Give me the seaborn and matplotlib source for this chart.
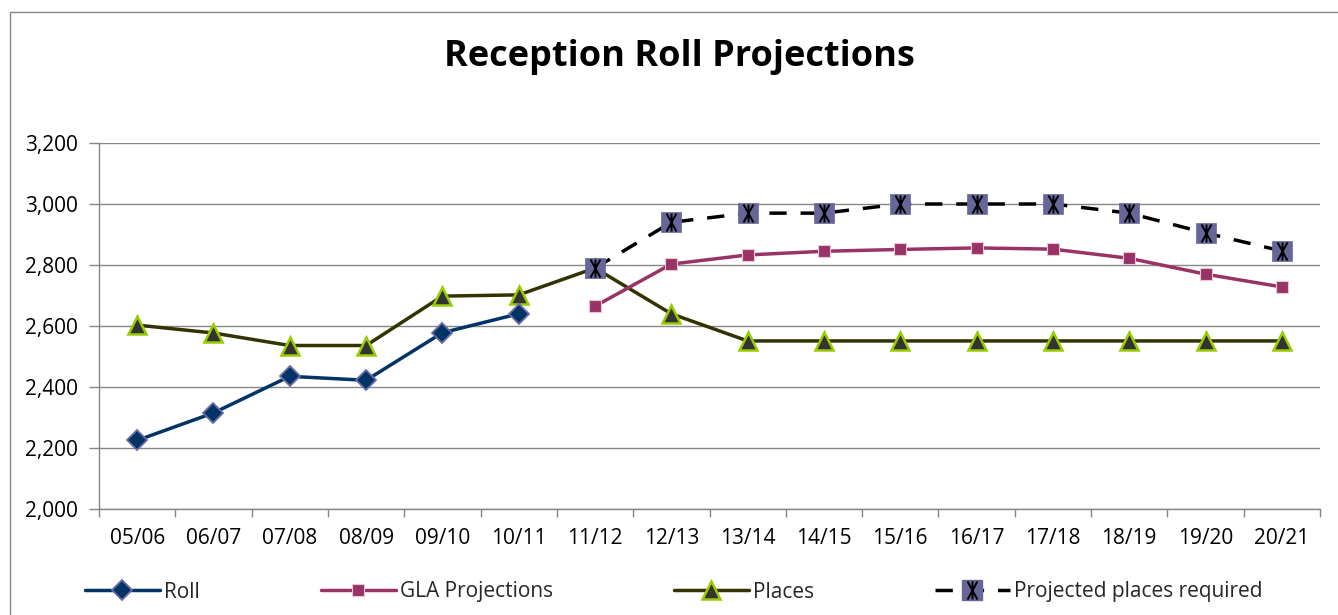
import matplotlib
matplotlib.use("Agg")
import matplotlib.pyplot as plt
import seaborn as sns
import numpy as np
import pandas as pd
from matplotlib.lines import Line2D
from matplotlib.legend_handler import HandlerTuple
from matplotlib.patches import Rectangle
from matplotlib.path import Path
from matplotlib.ticker import FixedLocator, FuncFormatter

years = ["05/06", "06/07", "07/08", "08/09", "09/10", "10/11", "11/12", "12/13",
         "13/14", "14/15", "15/16", "16/17", "17/18", "18/19", "19/20", "20/21"]
nan = np.nan
roll = [2225, 2315, 2435, 2422, 2578, 2640, nan, nan, nan, nan, nan, nan, nan, nan, nan, nan]
gla = [nan, nan, nan, nan, nan, nan, 2665, 2803, 2833, 2845, 2851, 2856, 2852, 2822, 2770, 2728]
places = [2603, 2577, 2536, 2536, 2698, 2702, 2790, 2640, 2551, 2551, 2551, 2551, 2551, 2551, 2551, 2551]
projected = [nan, nan, nan, nan, nan, nan, 2790, 2940, 2970, 2970, 3000, 3000, 3000, 2970, 2905, 2846]
yticks = [2000, 2200, 2400, 2600, 2800, 3000, 3200]

df = pd.DataFrame({"year": years, "Roll": roll, "GLA Projections": gla,
                   "Places": places, "Projected places required": projected})

sns.set_theme(style="white")
plt.rcParams['font.family'] = ['Open Sans', 'DejaVu Sans']

fig = plt.figure(figsize=(13.38, 6.15), dpi=100)
ax = fig.add_axes([99/1338, 1 - 509/615, (1320 - 99)/1338, (509 - 143)/615])

c_roll = "#003366"
c_gla = "#993366"
c_places = "#333300"

lw = 2.5
ms_roll, ms_gla, ms_pl, ms_pr, ms_star = 10, 8, 13, 15, 13

sns.lineplot(data=df, x="year", y="Places", ax=ax, color=c_places, lw=lw,
             marker="^", markersize=ms_pl, markerfacecolor="#333333",
             markeredgecolor="#99CC00", markeredgewidth=1.8, zorder=3)
sns.lineplot(data=df, x="year", y="Roll", ax=ax, color=c_roll, lw=lw,
             marker="D", markersize=ms_roll, markerfacecolor=c_roll,
             markeredgecolor="#6B6BA3", markeredgewidth=1.3, zorder=4)
sns.lineplot(data=df, x="year", y="GLA Projections", ax=ax, color=c_gla, lw=lw,
             marker="s", markersize=ms_gla, markerfacecolor=c_gla,
             markeredgecolor="#E8C8D8", markeredgewidth=0.8, zorder=4)
sns.lineplot(data=df, x="year", y="Projected places required", ax=ax, color="black", lw=lw,
             marker="s", markersize=ms_pr, markerfacecolor="#666699",
             markeredgecolor="#666699", markeredgewidth=0.5, zorder=5,
             dashes=False, linestyle=(0, (5, 4)))

# star-like marker (X with vertical bar) overlay
star = Path([(-0.55, -1), (0.55, 1), (-0.55, 1), (0.55, -1), (0, -1), (0, 1)],
            [Path.MOVETO, Path.LINETO, Path.MOVETO, Path.LINETO, Path.MOVETO, Path.LINETO])
sns.lineplot(data=df, x="year", y="Projected places required", ax=ax, lw=0,
             marker=star, markersize=ms_star, markerfacecolor="none",
             markeredgecolor="black", markeredgewidth=1.4, zorder=6)

ax.set_ylim(2000, 3200)
ax.set_xlim(-0.5, len(years) - 0.5)
ax.set_yticks(yticks)
ax.yaxis.set_major_formatter(FuncFormatter(lambda v, p: f"{int(v):,}"))
ax.set_xticks(range(len(years)))
ax.set_xticklabels(years)
ax.xaxis.set_minor_locator(FixedLocator(np.arange(-0.5, len(years), 1.0)))
ax.tick_params(axis="x", which="major", length=0, pad=14, labelsize=15, colors="black")
ax.tick_params(axis="x", which="minor", length=6, width=1, color="#868686", direction="out", bottom=True)
ax.tick_params(axis="y", which="major", length=7, width=1, color="#868686", direction="out",
               left=True, labelsize=15, pad=8, labelcolor="black")
ax.set_xlabel("")
ax.set_ylabel("")
ax.grid(axis="y", color="#868686", lw=1)
ax.grid(axis="x", visible=False)
ax.set_axisbelow(True)
for s in ["top", "right"]:
    ax.spines[s].set_visible(False)
for s in ["left", "bottom"]:
    ax.spines[s].set_color("#868686")
    ax.spines[s].set_linewidth(1)

fig.text(679/1338, 1 - 57/615, "Reception Roll Projections", ha="center", va="center",
         fontsize=26, fontweight="bold", color="black")

fig.patches.append(Rectangle((10/1338, -0.1), 1.2, 0.1 + (1 - 12/615),
                             transform=fig.transFigure, fill=False,
                             edgecolor="#868686", lw=1))

h_roll = Line2D([], [], color=c_roll, lw=lw, marker="D", markersize=ms_roll,
                markerfacecolor=c_roll, markeredgecolor="#6B6BA3", markeredgewidth=1.3)
h_gla = Line2D([], [], color=c_gla, lw=lw, marker="s", markersize=ms_gla,
               markerfacecolor=c_gla, markeredgecolor="#E8C8D8", markeredgewidth=0.8)
h_places = Line2D([], [], color=c_places, lw=lw, marker="^", markersize=ms_pl,
                  markerfacecolor="#333333", markeredgecolor="#99CC00", markeredgewidth=1.8)
h_proj1 = Line2D([], [], color="black", lw=lw, linestyle=(0, (5, 4)), marker="s", markersize=ms_pr,
                 markerfacecolor="#666699", markeredgecolor="#666699")
h_proj2 = Line2D([], [], lw=0, marker=star, markersize=ms_star, markerfacecolor="none",
                 markeredgecolor="black", markeredgewidth=1.4)
fig.legend([h_roll, h_gla, h_places, (h_proj1, h_proj2)],
           ["Roll", "GLA Projections", "Places", "Projected places required"],
           handler_map={tuple: HandlerTuple(ndivide=1)},
           loc="center left", bbox_to_anchor=(66/1338, 1 - 592/615), ncol=4,
           frameon=False, fontsize=15, handlelength=3.6, handletextpad=0.2,
           columnspacing=5.8)

fig.savefig("out.png", dpi=100)
